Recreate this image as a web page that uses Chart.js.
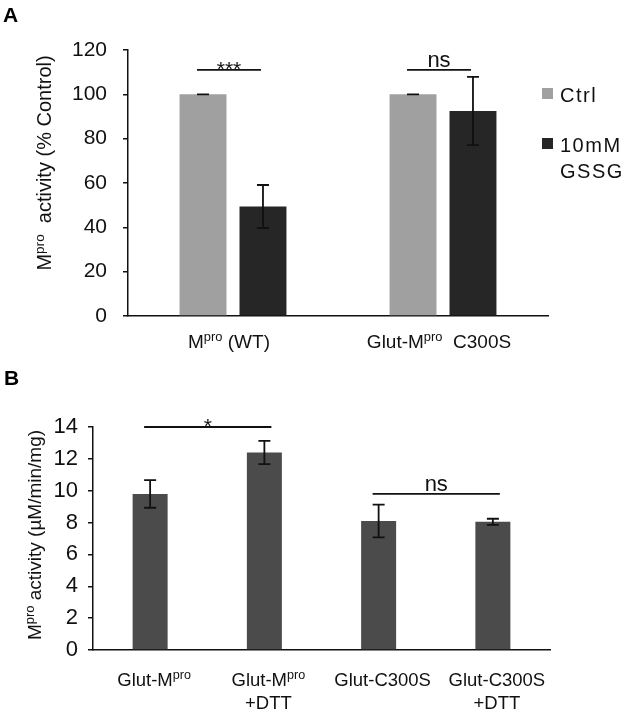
<!DOCTYPE html>
<html>
<head>
<meta charset="utf-8">
<script src="https://cdn.jsdelivr.net/npm/chart.js@4/dist/chart.umd.min.js"></script>
<style>
    html, body { margin: 0; padding: 0; background: #fff; }
    #wrapA { position: absolute; left: 0; top: 0; width: 630px; height: 360px; }
    #wrapB { position: absolute; left: 0; top: 360px; width: 630px; height: 353px; }
</style>
</head>
<body>
<div id="wrapA"><canvas id="chartA" width="630" height="360"></canvas></div>
<div id="wrapB"><canvas id="chartB" width="630" height="353"></canvas></div>
<script>
// text between ^ ^ is drawn as superscript
const FONT = "'Liberation Sans', Arial, sans-serif"

// ---- panel A ----
const labelsA = ['M^pro^ (WT)', 'Glut-M^pro^  C300S']
const seriesA = ['Ctrl', '10mM GSSG']
const ctrlA = [100, 100]
const gssgA = [49.4, 92.5]
const errCtrlA = [0, 0]
const errGssgA = [9.7, 15.4]
const sigTextA = ['***', 'ns']
const sigLevelA = [111, 111]
const ticksA = [0, 20, 40, 60, 80, 100, 120]
const colorsA = ['#a0a0a0', '#262626']

// ---- panel B ----
const labelsB = [['Glut-M^pro^'], ['Glut-M^pro^', '+DTT'], ['Glut-C300S'], ['Glut-C300S', '+DTT']]
const valuesB = [9.8, 12.4, 8.1, 8.05]
const errB = [0.87, 0.73, 1.03, 0.19]
const sigPairsB = [[0, 1], [2, 3]]
const sigTextB = ['*', 'ns']
const sigLevelB = [14, 9.8]
const ticksB = [0, 2, 4, 6, 8, 10, 12, 14]
const colorB = '#4b4b4b'

const plain = (t) => t.replace(/\^/g, '')

const drawRich = (ctx, text, x, y, size, align) => {
    const parts = text.split('^')
    const supSize = size * 0.68
    let widths = parts.map((p, i) => {
        ctx.font = (i % 2 ? supSize : size) + "px " + FONT
        return ctx.measureText(p).width
    })
    let total = widths.reduce((a, b) => a + b, 0)
    let cx = x
    if (align === 'center') cx = x - total / 2
    if (align === 'right') cx = x - total
    ctx.textAlign = 'left'
    ctx.textBaseline = 'alphabetic'
    parts.forEach((p, i) => {
        ctx.font = (i % 2 ? supSize : size) + "px " + FONT
        ctx.fillText(p, cx, i % 2 ? y - size * 0.36 : y)
        cx += widths[i]
    })
}

const drawErrors = (chart) => {
    const ctx = chart.ctx
    const yScale = chart.scales.y
    ctx.save()
    ctx.strokeStyle = '#111'
    ctx.lineWidth = 1.8
    chart.data.datasets.forEach((ds, di) => {
        const meta = chart.getDatasetMeta(di)
        meta.data.forEach((bar, i) => {
            const v = ds.data[i]
            const e = ds.errors[i]
            const yt = yScale.getPixelForValue(v + e)
            const yb = yScale.getPixelForValue(v - e)
            ctx.beginPath()
            ctx.moveTo(bar.x, yt); ctx.lineTo(bar.x, yb)
            ctx.moveTo(bar.x - 6, yt); ctx.lineTo(bar.x + 6, yt)
            ctx.moveTo(bar.x - 6, yb); ctx.lineTo(bar.x + 6, yb)
            ctx.stroke()
        })
    })
    ctx.restore()
}

const drawSig = (ctx, x0, x1, y, text) => {
    ctx.save()
    ctx.strokeStyle = '#111'
    ctx.lineWidth = 1.8
    ctx.beginPath()
    ctx.moveTo(x0, y); ctx.lineTo(x1, y)
    ctx.stroke()
    ctx.fillStyle = '#111'
    ctx.textAlign = 'center'
    ctx.textBaseline = 'alphabetic'
    if (text === 'ns') {
        ctx.font = "22px " + FONT
        ctx.fillText(text, (x0 + x1) / 2, y - 3)
    } else {
        ctx.font = "21px " + FONT
        ctx.fillText(text, (x0 + x1) / 2, y + 6)
    }
    ctx.restore()
}

const drawYTitle = (ctx, text, x, y, size) => {
    ctx.save()
    ctx.translate(x, y)
    ctx.rotate(-Math.PI / 2)
    ctx.fillStyle = '#111'
    drawRich(ctx, text, 0, 0, size, 'center')
    ctx.restore()
}

const drawPanelLetter = (ctx, letter, x, y) => {
    ctx.save()
    ctx.fillStyle = '#000'
    ctx.font = "bold 21px " + FONT
    ctx.textAlign = 'left'
    ctx.textBaseline = 'alphabetic'
    ctx.fillText(letter, x, y)
    ctx.restore()
}

const axisStyle = (size, pad) => ({
    ticks: {color: '#111', font: {family: FONT, size: size}, padding: pad},
    grid: {drawOnChartArea: false, drawTicks: true, tickLength: 5, color: '#111', lineWidth: 1.5},
    border: {color: '#111', width: 1.5},
})

const chartA = new Chart(document.getElementById('chartA'), {
    type: 'bar',
    data: {
        labels: labelsA.map(plain),
        datasets: [
            {label: seriesA[0], data: ctrlA, errors: errCtrlA, backgroundColor: colorsA[0]},
            {label: seriesA[1], data: gssgA, errors: errGssgA, backgroundColor: colorsA[1]},
        ]
    },
    options: {
        responsive: false,
        animation: false,
        layout: {padding: {left: 0, right: 82, top: 50, bottom: 0}},
        datasets: {bar: {categoryPercentage: 0.571, barPercentage: 0.783}},
        plugins: {legend: {display: false}, tooltip: {enabled: false}},
        scales: {
            x: {
                grid: {display: false, drawTicks: false},
                border: {color: '#111', width: 1.5},
                ticks: {display: false},
                afterFit: (s) => { s.height = 44 }
            },
            y: {
                min: 0, max: 120,
                ...axisStyle(21, 16),
                afterBuildTicks: (s) => { s.ticks = ticksA.map(v => ({value: v})) },
                afterFit: (s) => { s.width = 128 }
            }
        }
    },
    plugins: [{
        id: 'panelA',
        afterDraw: (chart) => {
            const ctx = chart.ctx
            drawErrors(chart)
            const m0 = chart.getDatasetMeta(0), m1 = chart.getDatasetMeta(1)
            sigTextA.forEach((t, i) => {
                drawSig(ctx, m0.data[i].x - 6, m1.data[i].x - 2, chart.scales.y.getPixelForValue(sigLevelA[i]), t)
            })
            ctx.fillStyle = '#111'
            labelsA.forEach((l, i) => {
                drawRich(ctx, l, chart.scales.x.getPixelForTick(i) - 4, 348, 19, 'center')
            })
            drawYTitle(ctx, 'M^pro^  activity (% Control)', 51, 163, 20)
            // legend
            const lx = chart.chartArea.right - 6
            let ly = [88, 138]
            chart.data.datasets.forEach((ds, i) => {
                ctx.fillStyle = ds.backgroundColor
                ctx.fillRect(lx, ly[i], 11, 11)
                ctx.save()
                ctx.fillStyle = '#111'
                ctx.font = "20px " + FONT
                ctx.letterSpacing = '1.5px'
                ctx.textAlign = 'left'
                ctx.textBaseline = 'alphabetic'
                ds.label.split(' ').forEach((w, k) => {
                    ctx.fillText(w, lx + 18, ly[i] + 14 + k * 26)
                })
                ctx.restore()
            })
            drawPanelLetter(ctx, 'A', 3, 22)
        }
    }]
})

const chartB = new Chart(document.getElementById('chartB'), {
    type: 'bar',
    data: {
        labels: labelsB.map(l => l.map(plain).join(' ')),
        datasets: [
            {label: 'activity', data: valuesB, errors: errB, backgroundColor: colorB},
        ]
    },
    options: {
        responsive: false,
        animation: false,
        layout: {padding: {left: 0, right: 80, top: 67, bottom: 0}},
        datasets: {bar: {categoryPercentage: 0.8, barPercentage: 0.383}},
        plugins: {legend: {display: false}, tooltip: {enabled: false}},
        scales: {
            x: {
                grid: {display: false, drawTicks: false},
                border: {color: '#111', width: 1.5},
                ticks: {display: false},
                afterFit: (s) => { s.height = 63 }
            },
            y: {
                min: 0, max: 14,
                ...axisStyle(22, 10),
                afterBuildTicks: (s) => { s.ticks = ticksB.map(v => ({value: v})) },
                afterFit: (s) => { s.width = 93 }
            }
        }
    },
    plugins: [{
        id: 'panelB',
        afterDraw: (chart) => {
            const ctx = chart.ctx
            drawErrors(chart)
            const meta = chart.getDatasetMeta(0)
            sigPairsB.forEach((p, i) => {
                drawSig(ctx, meta.data[p[0]].x - 6, meta.data[p[1]].x + 7, chart.scales.y.getPixelForValue(sigLevelB[i]), sigTextB[i])
            })
            ctx.fillStyle = '#111'
            labelsB.forEach((lines, i) => {
                lines.forEach((l, k) => {
                    drawRich(ctx, l, chart.scales.x.getPixelForTick(i) + 4, 326 + k * 23, 18.5, 'center')
                })
            })
            drawYTitle(ctx, 'M^pro^ activity (µM/min/mg)', 41, 175, 19)
            drawPanelLetter(ctx, 'B', 4, 25)
        }
    }]
})
</script>
</body>
</html>
